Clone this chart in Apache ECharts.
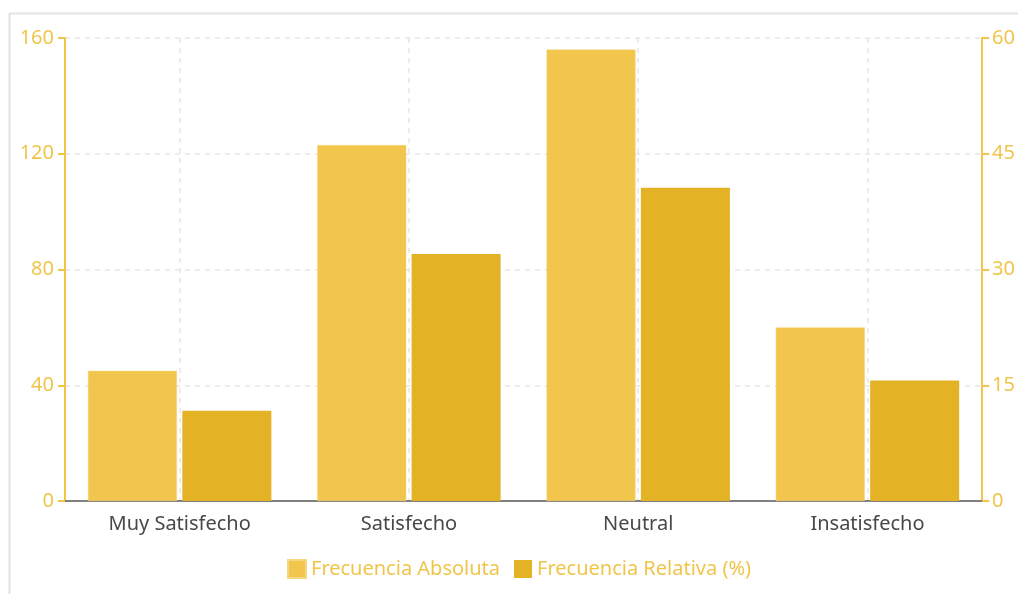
<!DOCTYPE html>
<html>
<head>
<meta charset="utf-8">
<script src="https://cdn.jsdelivr.net/npm/echarts@6/dist/echarts.min.js"></script>
<style>
html,body{margin:0;padding:0;background:#fff;}
#c{width:1018px;height:594px;}
</style>
</head>
<body>
<div id="c"></div>
<script>
const categories = ['Muy Satisfecho', 'Satisfecho', 'Neutral', 'Insatisfecho'];
const frecuenciaAbsoluta = [45, 123, 156, 60];
const frecuenciaRelativa = [11.7, 32.0, 40.6, 15.6];
const seriesNames = ['Frecuencia Absoluta', 'Frecuencia Relativa (%)'];
const halfSlots = ['', '', '', '', '', '', '', ''];

const yellow = '#f0c54a';
const fontFam = '"Noto Sans", "Open Sans", sans-serif';

const chart = echarts.init(document.getElementById('c'), null, {renderer: 'canvas'});
chart.setOption({
  backgroundColor: '#ffffff',
  animation: false,
  graphic: [{
    type: 'rect',
    shape: {x: 9.5, y: 13.5, width: 1030, height: 600},
    style: {fill: 'none', stroke: '#e3e3e3', lineWidth: 2},
    silent: true, z: -1
  }],
  grid: {left: 65, right: 35, top: 38, bottom: 93},
  legend: {
    left: 282, bottom: 10,
    itemWidth: 18, itemHeight: 18, itemGap: 14,
    icon: 'rect',
    textStyle: {color: yellow, fontSize: 20, fontFamily: fontFam},
    data: seriesNames
  },
  xAxis: [{
    type: 'category',
    data: categories,
    axisLine: {lineStyle: {color: '#808080', width: 2}},
    axisTick: {alignWithLabel: true, length: 6, lineStyle: {color: '#808080'}},
    axisLabel: {color: '#484848', fontSize: 20, fontFamily: fontFam, margin: 13},
    splitLine: {show: false}
  }, {
    type: 'category',
    data: halfSlots,
    show: true,
    position: 'bottom',
    axisLine: {show: false},
    axisTick: {show: false},
    axisLabel: {show: false},
    splitLine: {
      show: true,
      interval: function (i) { return i % 2 === 1; },
      lineStyle: {color: '#e6e6e6', type: [5, 5], width: 1.5}
    }
  }],
  yAxis: [{
    type: 'value',
    min: 0, max: 160, interval: 40,
    axisLine: {show: true, lineStyle: {color: yellow, width: 2}},
    axisTick: {show: true, length: 7, lineStyle: {color: yellow, width: 2}},
    axisLabel: {color: yellow, fontSize: 20, fontFamily: fontFam, margin: 11},
    splitLine: {lineStyle: {color: '#e6e6e6', type: [5, 5], width: 1.5}}
  }, {
    type: 'value',
    min: 0, max: 60, interval: 15,
    position: 'right',
    axisLine: {show: true, lineStyle: {color: yellow, width: 2}},
    axisTick: {show: true, length: 7, lineStyle: {color: yellow, width: 2}},
    axisLabel: {color: yellow, fontSize: 20, fontFamily: fontFam, margin: 10},
    splitLine: {show: false}
  }],
  series: [{
    name: seriesNames[0],
    type: 'bar',
    yAxisIndex: 0,
    data: frecuenciaAbsoluta,
    barGap: '6%',
    barCategoryGap: '20%',
    itemStyle: {color: '#f2c64d', borderColor: '#f6d680', borderWidth: 0.5}
  }, {
    name: seriesNames[1],
    type: 'bar',
    yAxisIndex: 1,
    data: frecuenciaRelativa,
    itemStyle: {color: '#e3b325'}
  }]
});
</script>
</body>
</html>
